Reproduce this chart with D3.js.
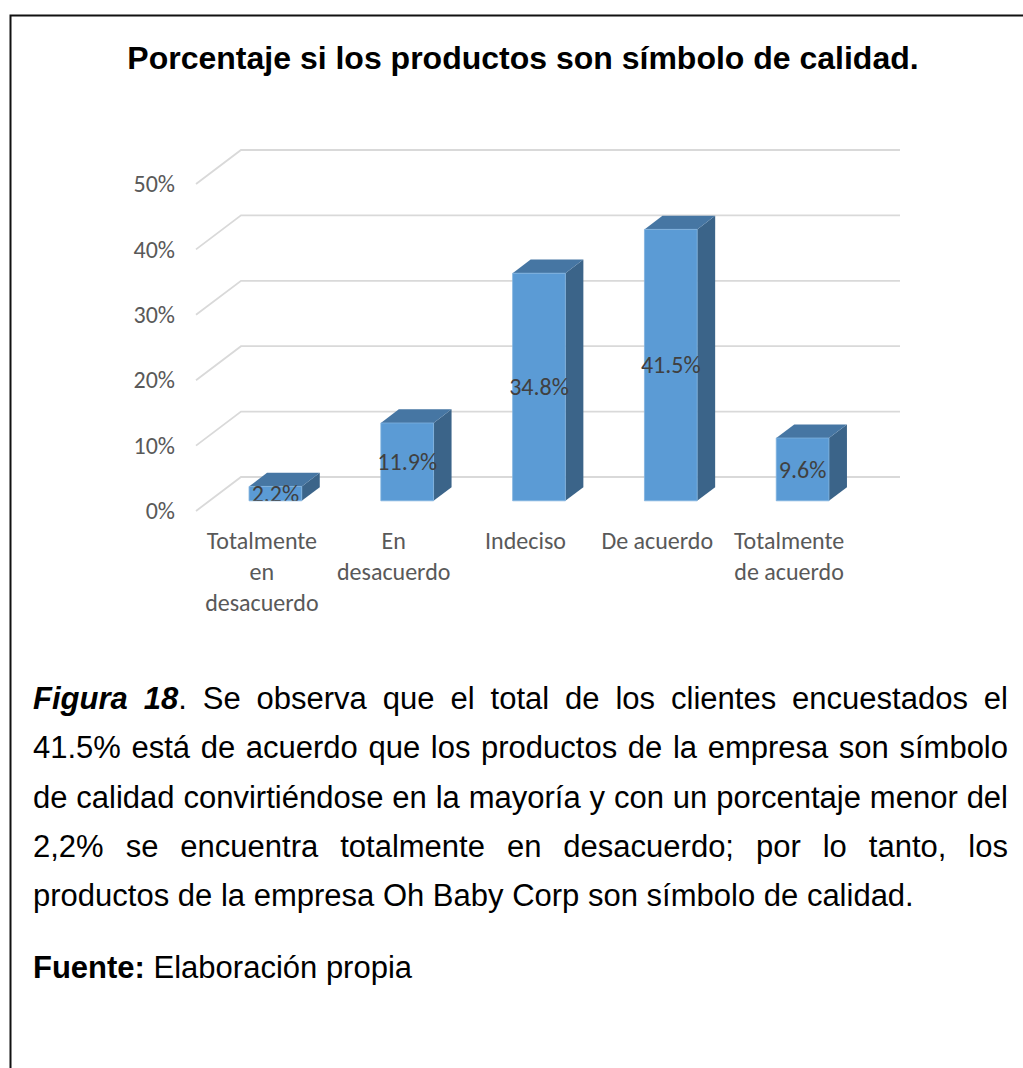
<!DOCTYPE html>
<html>
<head>
<meta charset="utf-8">
<script src="https://cdn.jsdelivr.net/npm/d3@7"></script>
<style>
  html, body { margin: 0; padding: 0; background: #fff; }
  svg { display: block; }
</style>
</head>
<body>
<script>
// Survey answers: share of customers per agreement level
const categories = ["Totalmente en desacuerdo", "En desacuerdo", "Indeciso", "De acuerdo", "Totalmente de acuerdo"];
const values = [0.022, 0.119, 0.348, 0.415, 0.096];
const yTicks = [0, 0.1, 0.2, 0.3, 0.4, 0.5];

const chartTitle = "Porcentaje si los productos son símbolo de calidad.";
const captionLines = [
  "Figura 18. Se observa que el total de los clientes encuestados el",
  "41.5% está de acuerdo que los productos de la empresa son símbolo",
  "de calidad convirtiéndose en la mayoría y con un porcentaje menor del",
  "2,2% se encuentra totalmente en desacuerdo; por lo tanto, los",
  "productos de la empresa Oh Baby Corp son símbolo de calidad."
];

const W = 1023, H = 1068;
const svg = d3.select("body").append("svg").attr("width", W).attr("height", H);

// Frame (top and left edges only)
svg.append("path")
  .attr("d", `M10.5,${H} V15.5 H${W}`)
  .attr("fill", "none").attr("stroke", "#111").attr("stroke-width", 2);

// Title
svg.append("text")
  .attr("x", 523).attr("y", 69)
  .attr("text-anchor", "middle")
  .attr("font-family", "'Liberation Sans', Arial, sans-serif")
  .attr("font-weight", "bold").attr("font-size", 32)
  .attr("fill", "#000")
  .text(chartTitle);

// ---- 3D column chart ----
const chartFont = "Carlito, Calibri, Lato, sans-serif";
const chartSize = 24;
const depth = { dx: 45, dy: -34 };         // vector from front plane to back wall
const x = d3.scaleBand().domain(categories).range([196, 855]).paddingInner(0).paddingOuter(0);
const y = d3.scaleLinear().domain([0, 0.5]).range([511, 184]);   // front plane
const P = (px, py, f) => [px + f * depth.dx, py + f * depth.dy];
const barFrac = 0.4, f0 = 0.3, f1 = 0.7;

const grid = svg.append("g").attr("fill", "none").attr("stroke", "#d9d9d9").attr("stroke-width", 1.8);
yTicks.forEach(v => {
  const a = P(x.range()[0], y(v), 0), b = P(x.range()[0], y(v), 1), c = P(x.range()[1], y(v), 1);
  grid.append("path").attr("d", `M${a[0]},${a[1]} L${b[0]},${b[1]} L${c[0]},${c[1]}`);
});

// Value axis labels
const yAxis = d3.axisLeft(y).tickValues(yTicks).tickFormat(d3.format(".0%")).tickSize(0).tickPadding(0);
svg.append("g").attr("transform", "translate(175,0)").call(yAxis)
  .call(g => g.select(".domain").remove())
  .call(g => g.selectAll("text").attr("font-family", chartFont).attr("font-size", chartSize).attr("fill", "#595959"));

// Bars
const bw = x.bandwidth() * barFrac;
const poly = pts => "M" + pts.map(p => p.join(",")).join("L") + "Z";
const bars = svg.append("g");
categories.forEach((c, i) => {
  const xl = x(c) + (x.bandwidth() - bw) / 2, xr = xl + bw;
  const y0 = y(0), yt = y(values[i]);
  const g = bars.append("g");
  // right side
  g.append("path").attr("d", poly([P(xr, y0, f0), P(xr, yt, f0), P(xr, yt, f1), P(xr, y0, f1)]))
    .attr("fill", "#3b6489");
  // top
  g.append("path").attr("d", poly([P(xl, yt, f0), P(xr, yt, f0), P(xr, yt, f1), P(xl, yt, f1)]))
    .attr("fill", "#4676a3");
  // front
  g.append("path").attr("d", poly([P(xl, y0, f0), P(xr, y0, f0), P(xr, yt, f0), P(xl, yt, f0)]))
    .attr("fill", "#5b9bd5").attr("stroke", "#7fb1de").attr("stroke-width", 0.8);
});

// Data labels, clipped at the floor of the bars
svg.append("clipPath").attr("id", "plotClip")
  .append("rect").attr("x", 150).attr("y", 100).attr("width", 800).attr("height", P(0, y(0), f0)[1] - 100);
const labels = svg.append("g").attr("clip-path", "url(#plotClip)");
categories.forEach((c, i) => {
  const cx = x(c) + x.bandwidth() / 2 + f0 * depth.dx;
  const cy = (y(0) + y(values[i])) / 2 + f0 * depth.dy;
  labels.append("text")
    .attr("x", cx).attr("y", cy).attr("dy", "0.35em")
    .attr("text-anchor", "middle")
    .attr("font-family", chartFont).attr("font-size", chartSize).attr("fill", "#404040")
    .text(d3.format(".1%")(values[i]));
});

// Category axis labels, wrapped to the band width
const xAxis = d3.axisBottom(x).tickSize(0).tickPadding(0);
const xg = svg.append("g").attr("transform", "translate(0,549)").call(xAxis);
xg.select(".domain").remove();
xg.selectAll("text")
  .attr("font-family", chartFont).attr("font-size", chartSize).attr("fill", "#595959")
  .attr("y", 0).attr("dy", 0)
  .each(function () {
    const t = d3.select(this);
    const words = t.text().split(" ");
    t.text(null);
    const maxW = x.bandwidth() - 6;
    let line = [];
    let ts = t.append("tspan").attr("x", 0).attr("dy", 0);
    words.forEach(w => {
      line.push(w);
      ts.text(line.join(" "));
      if (line.length > 1 && ts.node().getComputedTextLength() > maxW) {
        line.pop(); ts.text(line.join(" "));
        line = [w];
        ts = t.append("tspan").attr("x", 0).attr("dy", 31).text(w);
      }
    });
  });

// ---- Caption paragraph (justified) ----
const capFont = "'Liberation Sans', Arial, sans-serif";
const capSize = 31;
const cap = svg.append("g").attr("font-family", capFont).attr("font-size", capSize).attr("fill", "#000");
const capX0 = 33, capX1 = 1008, capY0 = 709, capLH = 49.3;

const measure = cap.append("text").text("a a");
const spaceW = measure.node().getComputedTextLength() - (measure.text("aa"), measure.node().getComputedTextLength());
measure.remove();

captionLines.forEach((line, li) => {
  const words = line.split(" ");
  const yy = capY0 + li * capLH;
  const nodes = words.map((w, wi) => {
    const t = cap.append("text").attr("y", yy);
    if (li === 0 && wi === 0) {
      t.append("tspan").attr("font-weight", "bold").attr("font-style", "italic").text(w);
    } else if (li === 0 && wi === 1) {
      t.append("tspan").attr("font-weight", "bold").attr("font-style", "italic").text(w.replace(".", ""));
      t.append("tspan").text(".");
    } else {
      t.text(w);
    }
    return t;
  });
  const widths = nodes.map(n => n.node().getComputedTextLength());
  const last = li === captionLines.length - 1;
  const gap = last ? spaceW : (capX1 - capX0 - d3.sum(widths)) / (words.length - 1);
  let xx = capX0;
  nodes.forEach((n, k) => { n.attr("x", xx); xx += widths[k] + gap; });
});

// Source line
const src = cap.append("text").attr("x", capX0).attr("y", 978);
src.append("tspan").attr("font-weight", "bold").text("Fuente:");
src.append("tspan").text(" Elaboración propia");
</script>
</body>
</html>
